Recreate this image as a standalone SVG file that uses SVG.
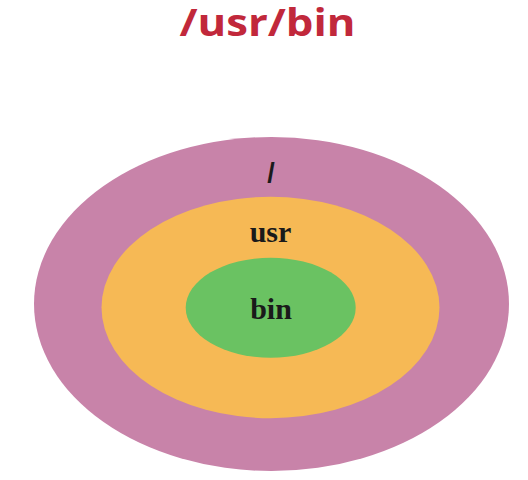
<svg xmlns="http://www.w3.org/2000/svg" width="528" height="480" viewBox="0 0 528 480">
  <style>
    .title { font-family: "Open Sans", "Liberation Sans", sans-serif; font-weight: bold; font-size: 38px; fill: #C1283B; }
    .lbl { font-family: "Liberation Serif", "Times New Roman", serif; font-weight: bold; font-size: 30px; fill: #1A1A1A; }
    .slash { font-family: "Liberation Sans", Arial, sans-serif; font-weight: bold; font-size: 27px; fill: #1A1A1A; }
  </style>
  <rect width="528" height="480" fill="#FFFFFF"/>
  <text class="title" x="267.5" y="36" text-anchor="middle" textLength="176" lengthAdjust="spacingAndGlyphs">/usr/bin</text>
  <g id="root">
    <ellipse cx="271.5" cy="304" rx="237.5" ry="167" fill="#C883A9"/>
    <text class="slash" x="271" y="182" text-anchor="middle">/</text>
  </g>
  <g id="usr">
    <ellipse cx="270.5" cy="307.5" rx="169" ry="110.7" fill="#F6B955"/>
    <text class="lbl" x="270.5" y="242" text-anchor="middle">usr</text>
  </g>
  <g id="bin">
    <ellipse cx="270.7" cy="307.7" rx="85" ry="50" fill="#6AC262"/>
    <text class="lbl" x="271" y="319" text-anchor="middle">bin</text>
  </g>
  <g id="connectors"/>
</svg>
